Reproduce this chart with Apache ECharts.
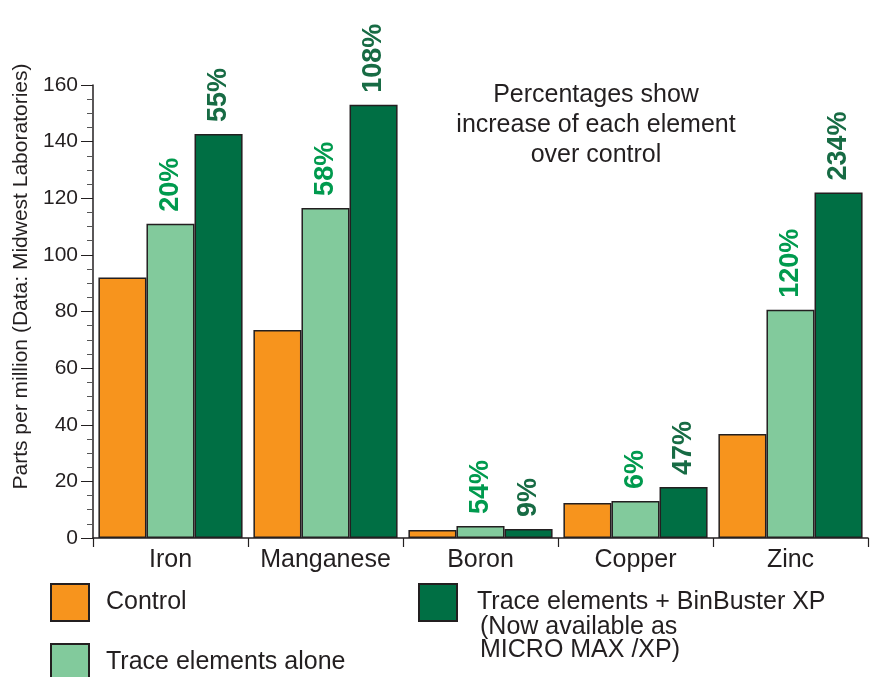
<!DOCTYPE html>
<html>
<head>
<meta charset="utf-8">
<script src="https://cdn.jsdelivr.net/npm/echarts@6/dist/echarts.min.js"></script>
<style>
  html, body { margin: 0; padding: 0; background: #fff; }
  #chart { width: 874px; height: 677px; }
</style>
</head>
<body>
<div id="chart"></div>
<script>
const elements = ['Iron', 'Manganese', 'Boron', 'Copper', 'Zinc'];
const control = [92, 73.5, 2.8, 12.4, 36.7];
const traceAlone = [111, 116.6, 4.2, 13.1, 80.6];
const traceBinBuster = [142.7, 153, 3.2, 18, 122];
const traceIncrease = ['20%', '58%', '54%', '6%', '120%'];
const binBusterIncrease = ['55%', '108%', '9%', '47%', '234%'];

const font = '"Liberation Sans", Arial, sans-serif';
const ink = '#231F20';

const chart = echarts.init(document.getElementById('chart'));

function pctLabel(texts, color) {
  return {
    show: true,
    position: 'top',
    rotate: 90,
    align: 'left',
    verticalAlign: 'middle',
    distance: 12,
    fontFamily: font,
    fontWeight: 'bold',
    fontSize: 27,
    color: color,
    formatter: p => texts[p.dataIndex]
  };
}

const barBorder = { borderColor: ink, borderWidth: 1.5 };

function legendAt(name, left, top, gap) {
  return {
    data: [name], left: left, top: top, padding: 0,
    itemWidth: 38, itemHeight: 37, icon: 'rect',
    textStyle: { fontSize: 25, color: ink, padding: [0, 0, 0, gap] }
  };
}

chart.setOption({
  animation: false,
  textStyle: { fontFamily: font },
  grid: { left: 93, right: 6, top: 85, bottom: 139 },
  legend: [
    legendAt('Control', 50, 583, 12),
    legendAt('Trace elements alone', 50, 643, 12),
    legendAt('Trace elements + BinBuster XP', 418, 583, 15)
  ],
  graphic: [
    {
      type: 'text', x: 480, y: 639,
      style: {
        text: '(Now available as\nMICRO MAX /XP)',
        font: '25px ' + font, fill: ink, lineHeight: 23,
        verticalAlign: 'middle'
      }
    },
    {
      type: 'text', x: 596, y: 125,
      style: {
        text: 'Percentages show\nincrease of each element\nover control',
        font: '25px ' + font, fill: ink, lineHeight: 30,
        align: 'center', verticalAlign: 'middle'
      }
    }
  ],
  xAxis: {
    type: 'category',
    data: elements,
    axisLine: { lineStyle: { color: ink, width: 1.5 } },
    axisTick: { show: true, interval: 0, length: 9, lineStyle: { color: ink, width: 1.2 } },
    axisLabel: { interval: 0, hideOverlap: false, fontSize: 25, color: ink, margin: 10 }
  },
  yAxis: {
    type: 'value',
    min: 0, max: 160, interval: 20,
    name: 'Parts per million (Data: Midwest Laboratories)',
    nameLocation: 'middle',
    nameGap: 60,
    nameTextStyle: { fontSize: 21, color: ink, padding: [0, 0, 0, 70] },
    axisLine: { show: true, lineStyle: { color: ink, width: 1.5 } },
    axisTick: { show: true, length: 12, lineStyle: { color: ink } },
    minorTick: { show: true, splitNumber: 4, length: 6, lineStyle: { color: '#555' } },
    splitLine: { show: false },
    axisLabel: { fontSize: 21, color: ink, margin: 15 }
  },
  series: [
    {
      name: 'Control', type: 'bar', data: control,
      barGap: 0, barCategoryGap: '7%',
      itemStyle: Object.assign({ color: '#F7941D' }, barBorder)
    },
    {
      name: 'Trace elements alone', type: 'bar', data: traceAlone,
      itemStyle: Object.assign({ color: '#82CA9C' }, barBorder),
      label: pctLabel(traceIncrease, '#009A4E')
    },
    {
      name: 'Trace elements + BinBuster XP', type: 'bar', data: traceBinBuster,
      itemStyle: Object.assign({ color: '#006F44' }, barBorder),
      label: pctLabel(binBusterIncrease, '#176B44')
    }
  ]
});
</script>
</body>
</html>
